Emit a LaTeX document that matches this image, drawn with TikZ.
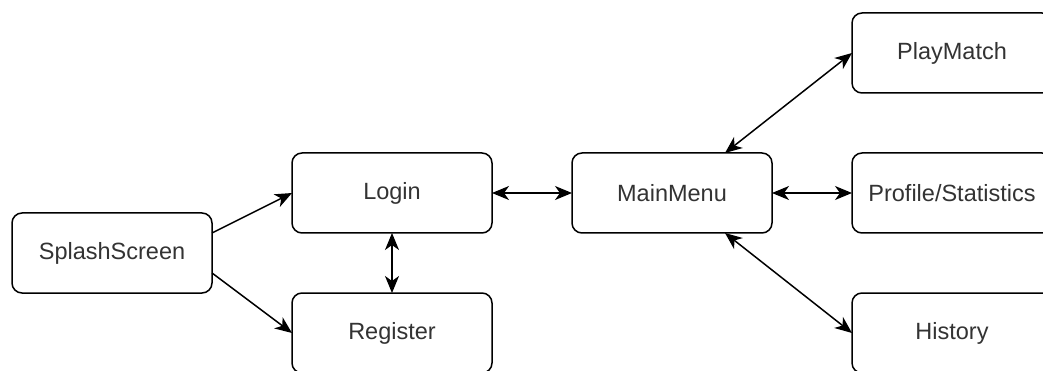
\documentclass[tikz,border=0pt]{standalone}
\usepackage{fontspec}
\setmainfont{Liberation Sans}
\usetikzlibrary{arrows.meta}
\definecolor{txt}{HTML}{333333}
\tikzset{
  tip/.tip={Stealth[length=17pt,width=14pt,inset=5pt]},
  screen/.style={draw=black, line width=1.5pt, rounded corners=10pt, fill=white,
    minimum width=200pt, minimum height=80pt, inner sep=0pt, outer sep=0pt,
    text=txt, font=\fontsize{23.5}{28}\selectfont},
  link/.style={line width=1.5pt, -tip},
  biLink/.style={line width=1.5pt, tip-tip}
}
\begin{document}
\begin{tikzpicture}[x=1pt,y=-1pt]
  \useasboundingbox (0,0) rectangle (1043,371);
  \fill[white] (0,0) rectangle (1043,371);
  \clip (0,0) rectangle (1043,371);

  % screens of the app
  \node[screen] (splash)   at (112,253) {SplashScreen};
  \node[screen] (login)    at (392,193) {Login};
  \node[screen] (register) at (392,333) {Register};
  \node[screen] (menu)     at (672,193) {MainMenu};
  \node[screen] (play)     at (952,53)  {PlayMatch};
  \node[screen] (profile)  at (952,193) {Profile/Statistics};
  \node[screen] (history)  at (952,333) {History};

  % navigation between screens
  \draw[link]   ([yshift=20pt]splash.east)  -- (login.west);
  \draw[link]   ([yshift=-20pt]splash.east) -- (register.west);
  \draw[biLink] (login.south) -- (register.north);
  \draw[biLink] (login.east)  -- (menu.west);
  \draw[biLink] ([xshift=53pt]menu.north) -- (play.west);
  \draw[biLink] (menu.east)   -- (profile.west);
  \draw[biLink] ([xshift=53pt]menu.south) -- (history.west);
\end{tikzpicture}
\end{document}
